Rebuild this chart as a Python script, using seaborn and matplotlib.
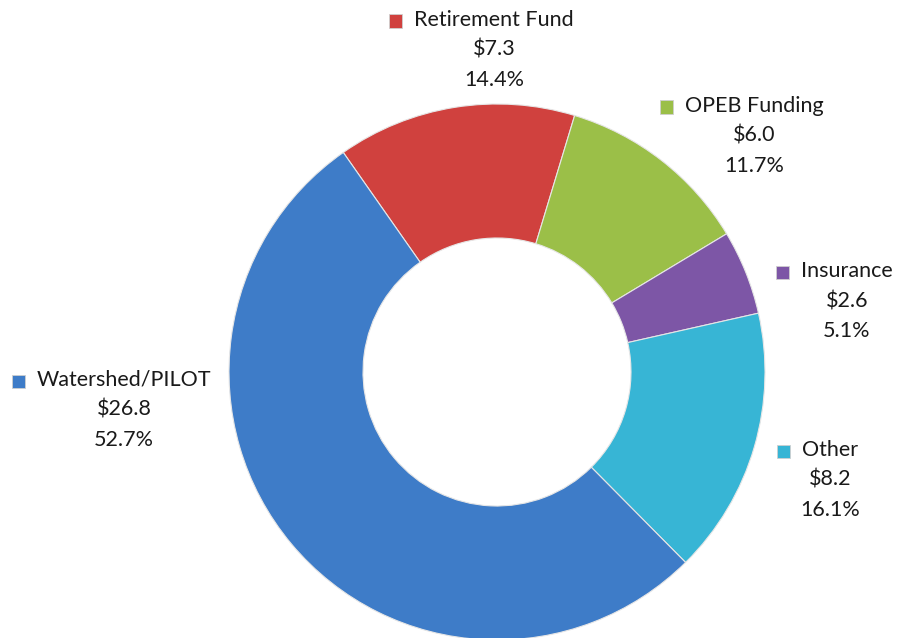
import matplotlib
matplotlib.use("Agg")
import matplotlib.pyplot as plt
import matplotlib.patches as mpatches
import seaborn as sns

sns.set_theme(style="white")
plt.rcParams['font.family'] = ['Lato', 'DejaVu Sans']

categories = ['Retirement Fund', 'OPEB Funding', 'Insurance', 'Other', 'Watershed/PILOT']
amounts = [7.3, 6.0, 2.6, 8.2, 26.8]
shares = [14.4, 11.7, 5.1, 16.1, 52.7]
colors = ['#D0413E', '#9BBF48', '#7D56A6', '#37B5D5', '#3E7CC8']

# label block centres in pixels (x, y of the middle line, from the top-left)
label_pos = [(494, 50), (754, 136), (847, 301), (830, 480), (124, 410)]

W, H = 900, 638
fig = plt.figure(figsize=(W / 100, H / 100), dpi=100)
fig.patch.set_facecolor('white')

# donut centred at (497, 372) px with outer radius 268 px
cx, cy, R = 497, 372, 268
ax = fig.add_axes([(cx - R) / W, (H - cy - R) / H, 2 * R / W, 2 * R / H])

wedges, _ = ax.pie(
    shares,
    colors=colors,
    startangle=125,
    counterclock=False,
    radius=1,
    wedgeprops=dict(width=0.5, edgecolor='#E6E6E6', linewidth=0.8),
)
ax.set_xlim(-1, 1)
ax.set_ylim(-1, 1)
ax.axis('off')


def px(x, y):
    return x / W, 1 - y / H


line_gap = 30
fs = 15.5
name_texts = []
for cat, amt, pct, (x, y) in zip(categories, amounts, shares, label_pos):
    t = fig.text(*px(x, y - line_gap), cat, ha='center', va='center',
                 fontsize=fs, color='#1a1a1a')
    fig.text(*px(x, y), f'${amt:.1f}', ha='center', va='center',
             fontsize=fs, color='#1a1a1a')
    fig.text(*px(x, y + line_gap), f'{pct:.1f}%', ha='center', va='center',
             fontsize=fs, color='#1a1a1a')
    name_texts.append(t)

# small legend-style squares in front of each category name
fig.canvas.draw()
renderer = fig.canvas.get_renderer()
sq = 13
for t, col in zip(name_texts, colors):
    bb = t.get_window_extent(renderer)
    x0 = bb.x0 - 12 - sq
    y0 = (bb.y0 + bb.y1) / 2 - sq / 2 - 1
    rect = mpatches.Rectangle((x0 / W, y0 / H), sq / W, sq / H,
                              transform=fig.transFigure, facecolor=col,
                              edgecolor='#cfcfcf', linewidth=0.6)
    fig.patches.append(rect)

fig.savefig('out.png', dpi=100)
